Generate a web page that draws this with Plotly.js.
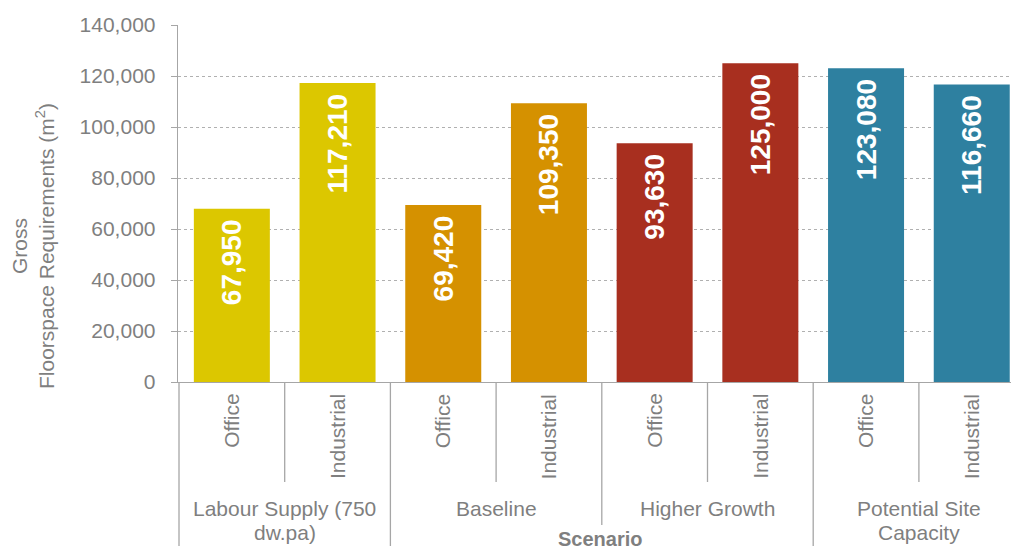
<!DOCTYPE html>
<html>
<head>
<meta charset="utf-8">
<script src="https://cdn.plot.ly/plotly-3.0.1.min.js"></script>
<style>html,body{margin:0;padding:0;background:#fff;}#chart{width:1011px;height:548px;}</style>
</head>
<body>
<div id="chart"></div>
<script>
// ---- data ----
const scenarios = ['Labour Supply (750<br>dw.pa)', 'Baseline', 'Higher Growth', 'Potential Site<br>Capacity'];
const types = ['Office', 'Industrial'];
const officeValues = [67950, 69420, 93630, 123080];
const industrialValues = [117210, 109350, 125000, 116660];
const scenarioColors = ['#DCC700', '#D59100', '#A82F1F', '#2E80A0'];
const yTickValues = [0, 20000, 40000, 60000, 80000, 100000, 120000, 140000];
const yTitle = 'Gross<br>Floorspace Requirements (m<sup>2</sup>)';
const xTitle = 'Scenario';

// ---- build ----
const W = 1011, H = 548;
const M = {l: 178, r: 0, t: 25, b: 166};
const plotH = H - M.t - M.b;
const plotW = W - M.l - M.r;
const px2paperY = (py) => -(py - (H - M.b)) / plotH; // pixel y -> paper y

const xs = [], ys = [], cols = [];
scenarios.forEach((s, i) => {
  [officeValues[i], industrialValues[i]].forEach((v, j) => {
    xs.push(i * types.length + j);
    ys.push(v);
    cols.push(scenarioColors[i]);
  });
});
const nCat = scenarios.length * types.length;
// category band is slightly wider than the visible plot: the last band runs past the right edge
const catPx = 105.7;
const xMin = -0.5 - 1 / catPx;
const xMax = xMin + plotW / catPx;

const grey = '#7f7f7f';
const lineGrey = '#a6a6a6';
const fam = '"Liberation Sans", Arial, sans-serif';

const annotations = [];
const shapes = [];
scenarios.forEach((s, i) => {
  types.forEach((t, j) => {
    annotations.push({
      x: i * types.length + j, xref: 'x', y: px2paperY(392), yref: 'paper',
      text: t, showarrow: false, textangle: -90, xanchor: 'center', yanchor: 'top',
      font: {family: fam, size: 21, color: grey}
    });
  });
  const lines = s.split('<br>');
  lines.forEach((ln, k) => {
    annotations.push({
      x: i * types.length + (types.length - 1) / 2, xref: 'x', y: px2paperY(508 + 24 * k), yref: 'paper',
      text: ln, showarrow: false, xanchor: 'center', yanchor: 'middle',
      font: {family: fam, size: 21, color: grey}
    });
  });
});
for (let k = 0; k < nCat; k++) {
  let bottom;
  if (k % types.length !== 0) bottom = 482;
  else if (k === nCat / 2) bottom = 525;
  else bottom = 546;
  shapes.push({type: 'line', xref: 'x', yref: 'paper', x0: k - 0.5, x1: k - 0.5,
    y0: 0, y1: px2paperY(bottom), line: {color: lineGrey, width: 1.3}});
}
annotations.push({
  x: (600 - M.l) / plotW, xref: 'paper', y: px2paperY(539), yref: 'paper',
  text: '<b>' + xTitle + '</b>', showarrow: false, xanchor: 'center', yanchor: 'middle',
  font: {family: fam, size: 20, color: grey}
});
annotations.push({
  x: (33 - M.l) / plotW, xref: 'paper', y: px2paperY(246), yref: 'paper',
  text: yTitle, showarrow: false, textangle: -90, xanchor: 'center', yanchor: 'middle',
  font: {family: fam, size: 21, color: grey}
});

const trace = {
  type: 'bar', x: xs, y: ys,
  marker: {color: cols, line: {width: 0}},
  texttemplate: '%{y:,}\u00a0', textposition: 'inside', insidetextanchor: 'end',
  textangle: -90,
  textfont: {family: fam, size: 28, color: '#ffffff', weight: 'bold'},
  hoverinfo: 'none', cliponaxis: false
};

const layout = {
  width: W, height: H, margin: M,
  paper_bgcolor: '#ffffff', plot_bgcolor: '#ffffff',
  showlegend: false, bargap: 0.281,
  font: {family: fam, color: grey},
  xaxis: {range: [xMin, xMax], showticklabels: false, showgrid: false, zeroline: false,
    showline: true, linecolor: lineGrey, linewidth: 1.3, ticks: '', fixedrange: true},
  yaxis: {range: [0, 140000], tickvals: yTickValues, tickformat: ',', showgrid: true,
    gridcolor: '#b0b0b0', griddash: 'dot', gridwidth: 1, zeroline: false,
    showline: true, linecolor: lineGrey, linewidth: 1.3, ticks: 'outside', ticklen: 6,
    tickcolor: lineGrey, ticklabelstandoff: 11,
    tickfont: {family: fam, size: 21, color: grey}, fixedrange: true},
  annotations: annotations, shapes: shapes
};

Plotly.newPlot('chart', [trace], layout, {displayModeBar: false, staticPlot: true});
</script>
</body>
</html>
